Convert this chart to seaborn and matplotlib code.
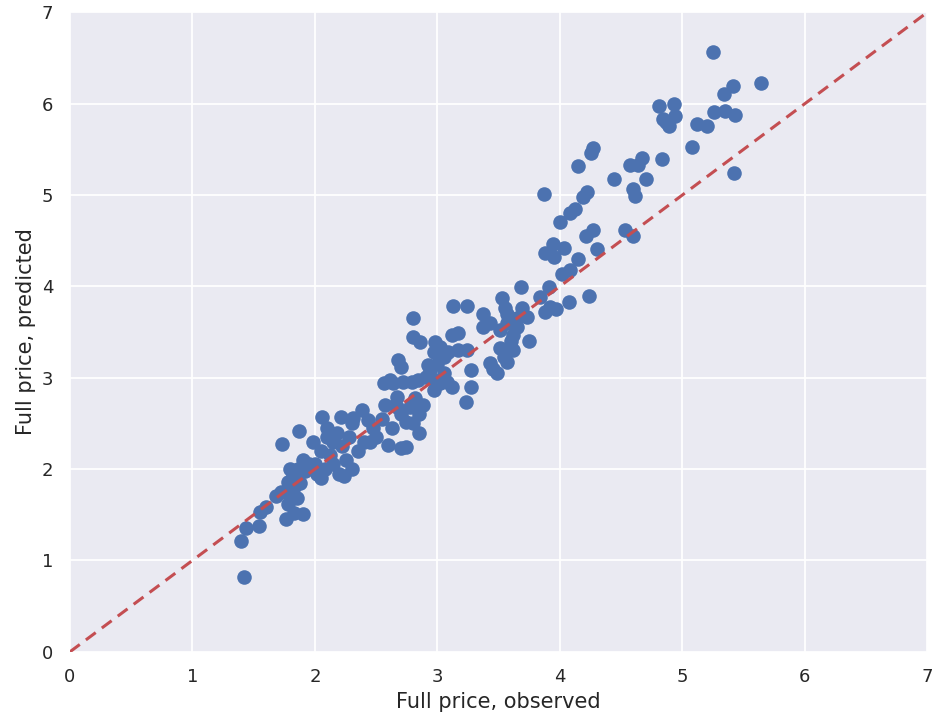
import matplotlib
matplotlib.use("Agg")
import matplotlib.pyplot as plt
from matplotlib import font_manager
import seaborn as sns
import pandas as pd

observed = [
    1.42, 1.40, 1.44, 1.54, 1.55, 1.60, 1.76, 1.83, 1.90, 1.68, 1.72, 1.78, 1.80, 1.83, 1.85,
    1.78, 1.82, 1.88, 1.86, 1.92, 1.95, 1.73, 1.87, 1.90, 1.80,
    1.98, 2.02, 2.05, 2.00, 2.08, 2.05, 2.06, 2.10, 2.10, 2.12, 2.15, 2.15, 2.18, 2.20, 2.22,
    2.21, 2.24, 2.25, 2.28, 2.30, 2.30, 2.31, 2.35, 2.38, 2.40, 2.43, 2.45, 2.47, 2.50, 2.55,
    2.57, 2.60, 2.63, 2.70, 2.74, 2.74, 2.80, 2.85, 2.65, 2.70,
    2.56, 2.64, 2.68, 2.70, 2.72, 2.79, 2.84, 2.61, 2.67, 2.82, 2.78, 2.67, 2.88, 2.85, 2.80,
    2.80, 2.86, 2.92, 2.94, 2.91, 2.97, 3.02, 3.08, 3.12, 2.97, 3.23, 3.27, 3.27, 2.98, 3.02,
    3.09, 3.17, 3.24, 2.97, 3.05, 3.12, 3.17, 3.13, 3.24, 3.00, 3.05,
    3.37, 3.37, 3.43, 3.51, 3.53, 3.55, 3.57, 3.57, 3.65, 3.62, 3.73, 3.51, 3.54, 3.43, 3.57,
    3.49, 3.45, 3.68, 3.69, 3.60, 3.65, 3.75, 3.62,
    3.84, 3.88, 3.92, 3.91, 3.87, 3.94, 3.88, 3.95, 4.03, 4.00, 4.08, 4.12, 4.15, 4.19, 4.22,
    4.27, 4.25, 4.27, 4.21, 4.30, 4.15, 4.08, 4.02, 4.07, 4.24, 3.97,
    4.44, 4.53, 4.60, 4.60, 4.61, 4.70, 4.57, 4.64, 4.67, 4.83, 4.81, 4.93, 4.94, 4.84, 4.89,
    5.08, 5.12, 5.20, 5.26, 5.35, 5.43, 5.25, 5.34, 5.41, 5.42, 5.64, 4.87,
]
predicted = [
    0.82, 1.21, 1.36, 1.38, 1.53, 1.58, 1.45, 1.52, 1.51, 1.70, 1.75, 1.62, 1.72, 1.80, 1.68,
    1.86, 1.93, 1.85, 2.00, 1.98, 2.05, 2.27, 2.42, 2.10, 2.00,
    2.30, 1.95, 1.90, 2.05, 2.00, 2.20, 2.57, 2.45, 2.35, 2.15, 2.05, 2.30, 2.40, 1.95, 2.25,
    2.57, 1.92, 2.10, 2.35, 2.00, 2.50, 2.56, 2.20, 2.65, 2.30, 2.54, 2.30, 2.45, 2.35, 2.55,
    2.70, 2.26, 2.45, 2.23, 2.24, 2.52, 2.50, 2.40, 2.70, 2.60,
    2.94, 2.94, 3.19, 3.12, 2.95, 2.95, 2.97, 2.97, 2.79, 2.78, 2.68, 2.68, 2.70, 2.60, 3.65,
    3.45, 3.39, 3.14, 3.08, 3.01, 2.97, 2.94, 2.95, 2.90, 2.87, 2.73, 2.90, 3.08, 3.39, 3.34,
    3.28, 3.30, 3.30, 3.28, 3.23, 3.47, 3.49, 3.78, 3.78, 3.15, 3.05,
    3.70, 3.55, 3.60, 3.52, 3.87, 3.76, 3.70, 3.60, 3.55, 3.47, 3.66, 3.32, 3.23, 3.16, 3.17,
    3.05, 3.10, 3.99, 3.76, 3.40, 3.65, 3.40, 3.30,
    3.88, 3.72, 3.77, 3.99, 5.01, 4.46, 4.36, 4.32, 4.42, 4.70, 4.80, 4.85, 5.32, 4.98, 5.03,
    5.51, 5.46, 4.62, 4.55, 4.41, 4.30, 4.18, 4.13, 3.83, 3.89, 3.75,
    5.18, 4.62, 4.55, 5.07, 4.99, 5.18, 5.33, 5.33, 5.41, 5.39, 5.97, 6.00, 5.86, 5.83, 5.76,
    5.52, 5.78, 5.76, 5.91, 5.92, 5.87, 6.56, 6.11, 6.19, 5.24, 6.23, 5.80,
]
diag = [0, 7]
ticks = [0, 1, 2, 3, 4, 5, 6, 7]

df = pd.DataFrame({"observed": observed, "predicted": predicted})

sns.set_theme(style="darkgrid", rc={"axes.facecolor": "#EAEAF2", "grid.color": "white",
                                    "grid.linewidth": 1.3})
names = {f.name for f in font_manager.fontManager.ttflist}
fam = ["Liberation Sans Narrow"] if "Liberation Sans Narrow" in names else ["DejaVu Sans"]
plt.rcParams["font.family"] = fam + ["DejaVu Sans"]

fig = plt.figure(figsize=(9.33, 7.21), dpi=100)
ax = fig.add_axes([0.075, 0.096, 0.919, 0.887])
sns.scatterplot(data=df, x="observed", y="predicted", ax=ax, color="#4C72B0",
                s=110, linewidth=0, alpha=1, zorder=3)
ax.plot(diag, diag, linestyle="--", color="#C44E52", linewidth=2.2, zorder=4,
        dashes=(4, 2.5))
ax.set_xlim(0, 7)
ax.set_ylim(0, 7)
ax.set_xticks(ticks)
ax.set_yticks(ticks)
ax.tick_params(labelsize=13, colors="#262626", pad=6)
ax.set_xlabel("Full price, observed", fontsize=15, color="#262626")
ax.set_ylabel("Full price, predicted", fontsize=15, color="#262626")
for s in ax.spines.values():
    s.set_visible(False)
fig.savefig("out.png", dpi=100)
